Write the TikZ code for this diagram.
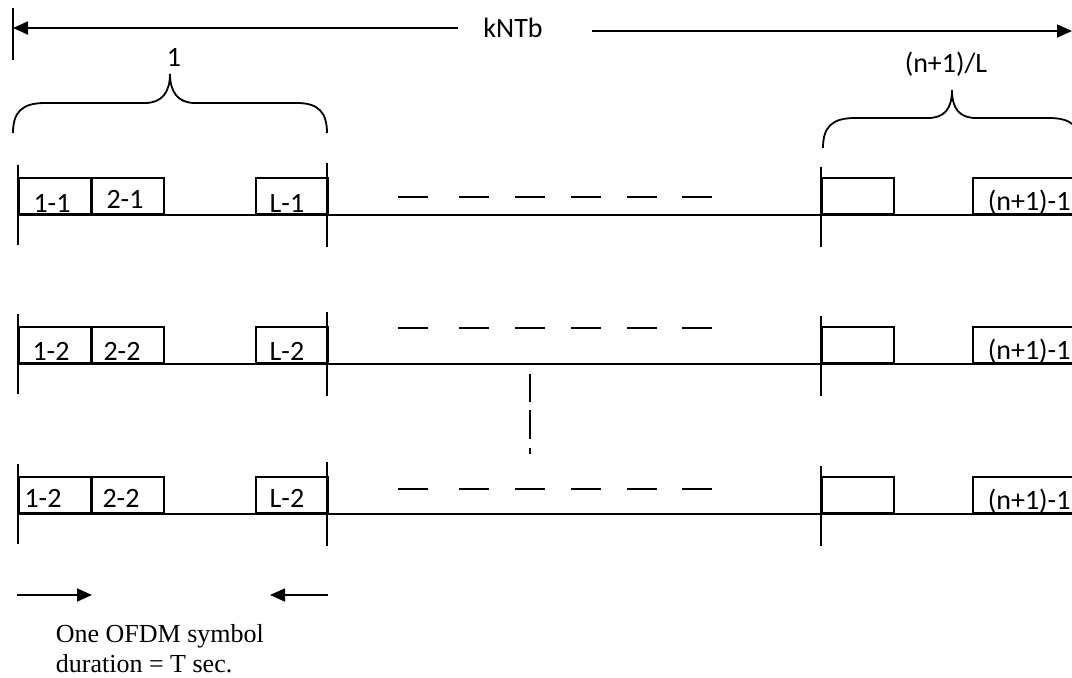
\documentclass[tikz,border=0pt]{standalone}
\usepackage{fontspec}
\setmainfont{Carlito}
\newfontfamily\serifont{Liberation Serif}
\usetikzlibrary{arrows.meta}
\begin{document}
\begin{tikzpicture}[x=1pt,y=-1pt,
  line width=1.8pt,
  every node/.style={font=\fontsize{28}{33}\selectfont},
  slot/.style={draw, line width=1.8pt, minimum height=36pt, minimum width=72pt, inner sep=0pt, anchor=south west},
  tick/.style={line width=1.8pt},
  dashseg/.style={line width=1.8pt},
  arr/.style={-{Triangle[length=15pt,width=13pt]}},
  lbl/.style={inner sep=0pt},
  slbl/.style={inner sep=0pt, anchor=base},
  serif/.style={inner sep=0pt, anchor=base west, font=\serifont\fontsize{26}{30}\selectfont}]
\useasboundingbox (0,0) rectangle (1072,678);
\clip (0,0) rectangle (1072,678);
% top arrow
\coordinate (tl) at (13,28);
\coordinate (tr) at (1072,31);
\draw[tick] (13,8) -- (13,60);
\node[lbl] (k) at (513,28) {kNTb};
\coordinate (kl) at (458,28);
\coordinate (kr) at (592,31);
\draw[arr] (kl) -- (tl);
\draw[arr] (kr) -- (tr);
% braces
\node[lbl] (b1) at (174,57) {1};
\draw (13,133) .. controls (13,112) and (22,103) .. (45,103) -- (145,103)
  .. controls (162,103) and (170,92) .. (170,74)
  .. controls (170,92) and (178,103) .. (195,103) -- (297,103)
  .. controls (318,103) and (327,112) .. (327,133);
\node[lbl] (b2) at (946,64) {(n+1)/L};
\draw (823,148) .. controls (823,127) and (832,118) .. (855,118) -- (928,118)
  .. controls (945,118) and (952,108) .. (952,90)
  .. controls (952,108) and (959,118) .. (976,118) -- (1049,118)
  .. controls (1072,118) and (1081,127) .. (1081,148);
% rows: number / baseline / dash y / texts with x and base offsets
\foreach \r/\yb/\yd/\ta/\xa/\oa/\tb/\xb/\ob/\tc/\oc in
  {1/215/197/1-1/52/3/2-1/125/7/L-1/3,
   2/364/328/1-2/51/4/2-2/122/4/L-2/4,
   3/514/489/1-2/43/7/2-2/121/7/L-2/7}{
  \coordinate (s\r) at (18,\yb);
  \coordinate (e\r) at (1072,\yb);
  \draw (s\r) -- (e\r);
  \draw[tick] (18,\yb-50) -- (18,\yb+30);
  \draw[tick] (327,\yb-52) -- (327,\yb+32);
  \draw[tick] (821,\yb-48) -- (821,\yb+32);
  \node[slot] (a\r) at (18,\yb) {};
  \node[slot] (b\r) at (91,\yb) {};
  \node[slot] (c\r) at (255,\yb) {};
  \node[slot] (d\r) at (821,\yb) {};
  \node[slot, minimum width=110pt] (f\r) at (972,\yb) {};
  \node[slbl] (ta\r) at (\xa,\yb-\oa) {\ta};
  \node[slbl] (tb\r) at (\xb,\yb-\ob) {\tb};
  \node[slbl] (tc\r) at (287,\yb-\oc) {\tc};
  \node[lbl, anchor=base west] (g\r) at (987,\yb-5) {(n+1)-1};
  \foreach \xd in {398,459,515,571,627,682}{
    \draw[dashseg] (\xd,\yd) -- (\xd+30,\yd);
  }
}
% vertical dashed
\draw[dashseg] (530,374) -- (530,402);
\draw[dashseg] (530,410) -- (530,439);
\draw[dashseg] (530,448) -- (530,454);
% bottom arrows
\coordinate (p1) at (17,595);
\coordinate (p2) at (92,595);
\coordinate (q1) at (328,595);
\coordinate (q2) at (270,595);
\draw[arr] (p1) -- (p2);
\draw[arr] (q1) -- (q2);
\node[serif] (t1) at (55,642) {One OFDM symbol};
\node[serif] (t2) at (55,672) {duration = T sec.};
\end{tikzpicture}
\end{document}
